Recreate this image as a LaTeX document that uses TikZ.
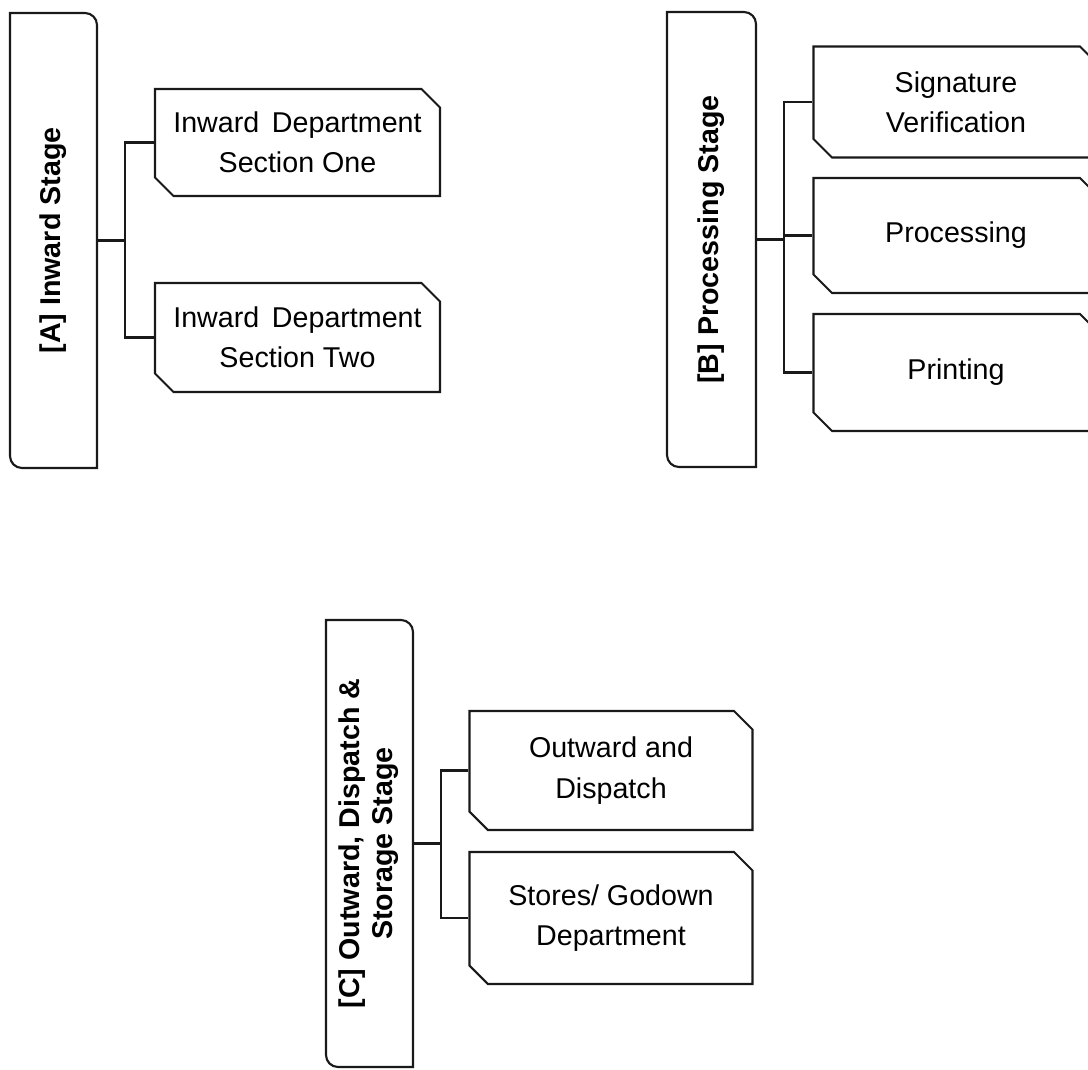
\documentclass[tikz,border=0pt]{standalone}
\usepackage{fontspec}
\setmainfont{Liberation Sans}
\usetikzlibrary{shapes.misc}

\def\radius{0.24cm}
\def\branchsep{0.56cm}
\newcommand{\upright}[1]{\rotatebox{90}{\begin{tabular}{@{}c@{}}#1\end{tabular}}}

\begin{document}
\begin{tikzpicture}[line width=1.2pt, draw=black!90]
    \tikzstyle{stage}=[outer sep=0pt, inner sep=0pt, minimum width=1.74cm,
        font=\bfseries\fontsize{16.3}{19}\selectfont]
    \tikzstyle{unit}=[chamfered rectangle, chamfered rectangle corners={north east,south west},
        chamfered rectangle xsep=0.19cm, chamfered rectangle ysep=0.18cm,
        draw, minimum width=5.7cm, align=center, font=\fontsize{16.3}{23}\selectfont]

    \useasboundingbox (0,0) rectangle (21.76,-21.38);
    \clip (0,0) rectangle (21.76,-21.38);

    % The three stages (text only, outline drawn below)
    \node[stage, minimum height=9.1cm] (sA) at (1.07,-4.81) {\upright{[A] Inward Stage}};
    \node[stage, minimum height=9.1cm, minimum width=1.78cm] (sB) at (14.23,-4.79) {\upright{[B] Processing Stage}};
    \node[stage, minimum height=8.94cm] (sC) at (7.39,-16.87) {\upright{[C] Outward, Dispatch \&\\ Storage Stage}};

    % rounded top right and bottom left corners
    \foreach \s in {sA,sB,sC}
        \draw (\s.north west) -- ([xshift=-\radius]\s.north east) arc[start angle=90, end angle=0, radius=\radius]
            -- (\s.south east) -- ([xshift=\radius]\s.south west) arc[start angle=270, end angle=180, radius=\radius] -- cycle;

    % Departments of each stage
    \node[unit, minimum height=2.14cm] (a1) at (5.95,-2.85) {Inward\, Department\\ Section One};
    \node[unit, minimum height=2.18cm] (a2) at (5.95,-6.75) {Inward\, Department\\ Section Two};

    \node[unit, minimum height=2.22cm] (b1) at (19.12,-2.04) {Signature\\ Verification};
    \node[unit, minimum height=2.3cm] (b2) at (19.12,-4.71) {Processing};
    \node[unit, minimum height=2.34cm] (b3) at (19.12,-7.45) {Printing};

    \node[unit, minimum width=5.66cm, minimum height=2.38cm] (c1) at (12.22,-15.41) {Outward and\\ Dispatch};
    \node[unit, minimum width=5.66cm, minimum height=2.64cm] (c2) at (12.22,-18.36) {Stores/ Godown\\ Department};

    % Connect each stage with its departments
    \path (sA.east) ++(\branchsep,0) coordinate (jA);
    \path (sB.east) ++(\branchsep,0) coordinate (jB);
    \path (sC.east) ++(\branchsep,0) coordinate (jC);

    \draw (sA.east) -- (jA);
    \draw (a1.west) -| (jA) |- (a2.west);

    \draw (sB.east) -- (jB);
    \draw (b1.west) -| (jB) |- (b3.west);
    \draw (jB |- b2.west) -- (b2.west);

    \draw (sC.east) -- (jC);
    \draw (c1.west) -| (jC) |- (c2.west);
\end{tikzpicture}
\end{document}
